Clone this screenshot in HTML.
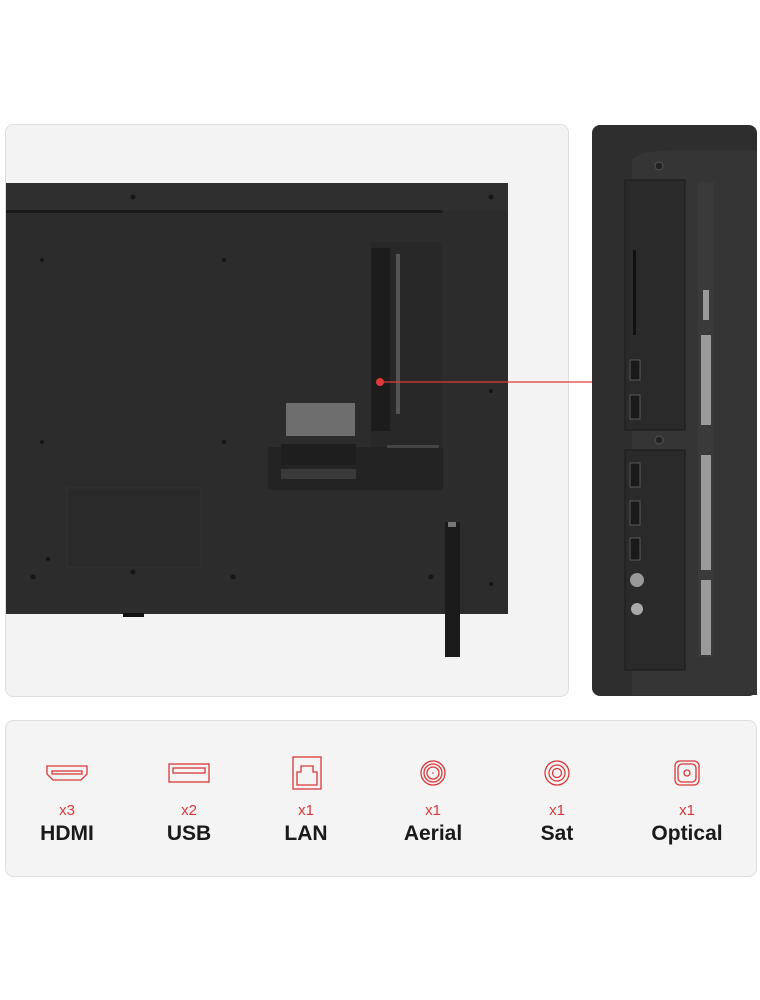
<!DOCTYPE html>
<html><head><meta charset="utf-8"><style>
html,body{margin:0;padding:0;background:#fff;width:760px;height:1000px;overflow:hidden}
svg{display:block}
text{font-family:"Liberation Sans",sans-serif}
</style></head><body>
<svg width="760" height="1000" viewBox="0 0 760 1000">
<rect x="0" y="0" width="760" height="1000" fill="#fff"/>
<rect x="5.5" y="124.5" width="563" height="572" rx="8" fill="#f3f3f3" stroke="#dedede"/>
<rect x="6" y="183" width="502" height="431" fill="#2c2c2c"/>
<rect x="6" y="183" width="502" height="28" fill="#2f2f2f"/>
<rect x="6" y="210" width="437" height="3" rx="1.5" fill="#1a1a1a"/>
<g fill="#151515">
<circle cx="133" cy="197" r="2.5"/><circle cx="491" cy="197" r="2.5"/>
<circle cx="42" cy="260" r="2"/><circle cx="224" cy="260" r="2"/>
<circle cx="42" cy="442" r="2"/><circle cx="224" cy="442" r="2"/>
<circle cx="33" cy="577" r="2.5"/><circle cx="133" cy="572" r="2.5"/><circle cx="233" cy="577" r="2.5"/><circle cx="431" cy="577" r="2.5"/>
<circle cx="491" cy="391" r="2"/><circle cx="491" cy="584" r="2"/><circle cx="48" cy="559" r="2"/>
</g>
<rect x="67" y="488" width="134" height="79" fill="#2a2a2a" stroke="#333"/>
<rect x="123" y="613" width="21" height="4" fill="#111"/>
<rect x="371" y="242" width="71" height="247" rx="2" fill="#282828"/>
<rect x="268" y="447" width="175" height="43" rx="2" fill="#232323"/>
<rect x="371" y="248" width="19" height="183" fill="#1c1c1c"/>
<rect x="396" y="254" width="4" height="160" fill="#555"/>
<rect x="286" y="403" width="69" height="33" fill="#6e6e6e"/>
<rect x="281" y="444" width="75" height="21" fill="#1e1e1e"/>
<rect x="281" y="469" width="75" height="10" fill="#3a3a3a"/>
<rect x="387" y="445" width="52" height="3" fill="#444"/>
<rect x="445" y="522" width="15" height="135" fill="#1b1b1b"/>
<rect x="448" y="522" width="8" height="5" fill="#777"/>
<line x1="380" y1="382" x2="592" y2="382" stroke="#e0393a" stroke-width="1.2"/>
<circle cx="380" cy="382" r="4" fill="#e0393a"/>
<rect x="592" y="125" width="165" height="571" rx="8" fill="#2e2e2e"/>
<path d="M632 160 L632 695 L757 695 L757 150 L680 150 Q640 150 632 160Z" fill="#353535"/>
<rect x="625" y="180" width="60" height="250" fill="#2a2a2a" stroke="#1a1a1a"/>
<rect x="625" y="450" width="60" height="220" fill="#2a2a2a" stroke="#1a1a1a"/>
<rect x="633" y="250" width="3" height="85" fill="#111"/>
<g fill="#1a1a1a" stroke="#666" stroke-width="0.8">
<rect x="630" y="360" width="10" height="20"/><rect x="630" y="395" width="10" height="24"/>
<rect x="630" y="463" width="10" height="24"/><rect x="630" y="501" width="10" height="24"/><rect x="630" y="538" width="10" height="22"/>
</g>
<circle cx="637" cy="580" r="7" fill="#999"/><circle cx="637" cy="609" r="6" fill="#aaa"/>
<circle cx="659" cy="166" r="4" fill="#222" stroke="#555"/><circle cx="659" cy="440" r="4" fill="#222" stroke="#555"/>
<rect x="698" y="182" width="16" height="475" fill="#3a3a3a"/>
<g fill="#9a9a9a"><rect x="703" y="290" width="6" height="30"/><rect x="701" y="335" width="10" height="90"/><rect x="701" y="455" width="10" height="115"/><rect x="701" y="580" width="10" height="75"/></g>
<rect x="5.5" y="720.5" width="751" height="156" rx="8" fill="#f4f4f4" stroke="#dedede"/>
<g fill="none" stroke="#d9393a" stroke-width="1.3">
<path d="M47 766 L87 766 L87 774 L81 780 L53 780 L47 774 Z"/><rect x="52" y="771" width="30" height="3"/>
<rect x="169" y="764" width="40" height="18"/><rect x="173" y="768" width="32" height="5"/>
<rect x="293" y="757" width="28" height="32"/><path d="M297 785 L297 772 L301 772 L301 766 L313 766 L313 772 L317 772 L317 785 Z"/>
<circle cx="433" cy="773" r="12"/><circle cx="433" cy="773" r="9"/><circle cx="433" cy="773" r="6"/>
<circle cx="557" cy="773" r="12"/><circle cx="557" cy="773" r="8"/><circle cx="557" cy="773" r="4.5"/>
<rect x="675" y="761" width="24" height="24" rx="5"/><rect x="678" y="764" width="18" height="18" rx="4"/><circle cx="687" cy="773" r="3"/>
</g>
<circle cx="433" cy="773" r="0.8" fill="#d9393a"/>
<g fill="#d9393a" font-size="15" text-anchor="middle">
<text x="67" y="815">x3</text><text x="189" y="815">x2</text><text x="306" y="815">x1</text><text x="433" y="815">x1</text><text x="557" y="815">x1</text><text x="687" y="815">x1</text>
</g>
<g fill="#1a1a1a" font-size="21" font-weight="bold" text-anchor="middle">
<text x="67" y="840">HDMI</text><text x="189" y="840">USB</text><text x="306" y="840">LAN</text><text x="433" y="840">Aerial</text><text x="557" y="840">Sat</text><text x="687" y="840">Optical</text>
</g>
</svg>
</body></html>
